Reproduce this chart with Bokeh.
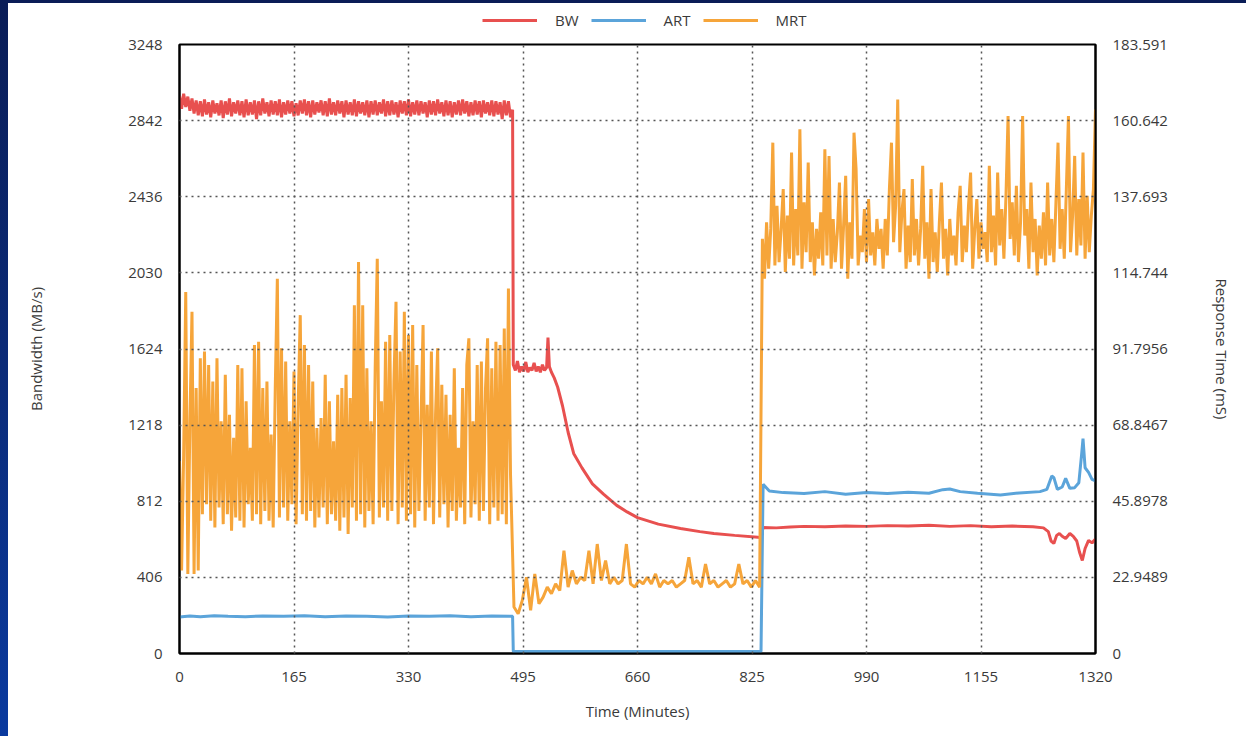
import numpy as np
from bokeh.plotting import figure
from bokeh.models import (Range1d, LinearAxis, FixedTicker, CustomJSTickFormatter,
                          Legend, LegendItem)
from bokeh.layouts import column
from bokeh.embed import file_html
from bokeh.resources import INLINE

# ---------------- data ----------------
x_ticks = [0, 165, 330, 495, 660, 825, 990, 1155, 1320]
bw_ticks = [0, 406, 812, 1218, 1624, 2030, 2436, 2842, 3248]
rt_ticks = [0, 22.9489, 45.8978, 68.8467, 91.7956, 114.744, 137.693, 160.642, 183.591]
series_names = ["BW", "ART", "MRT"]

# Bandwidth (MB/s), phase 1 sampled every 3 minutes from t=0
bw_phase1 = [2975, 2905, 2985, 2915, 2970, 2895, 2960, 2880, 2950, 2870,
             2945, 2865, 2955, 2875, 2940, 2860, 2950, 2880, 2935, 2870,
             2950, 2855, 2945, 2875, 2960, 2865, 2940, 2880, 2950, 2870,
             2945, 2860, 2955, 2870, 2940, 2875, 2950, 2850, 2945, 2870,
             2960, 2880, 2940, 2865, 2950, 2875, 2945, 2870, 2955, 2860,
             2940, 2875, 2950, 2880, 2945, 2865, 2935, 2870, 2950, 2880,
             2955, 2870, 2945, 2860, 2950, 2875, 2940, 2885, 2950, 2870,
             2945, 2865, 2960, 2875, 2940, 2870, 2950, 2880, 2945, 2860,
             2950, 2875, 2940, 2870, 2955, 2865, 2945, 2880, 2940, 2870,
             2950, 2860, 2945, 2875, 2950, 2870, 2940, 2880, 2955, 2865,
             2945, 2870, 2950, 2875, 2940, 2860, 2950, 2880, 2945, 2870,
             2955, 2865, 2940, 2875, 2950, 2870, 2945, 2880, 2940, 2860,
             2950, 2875, 2945, 2870, 2955, 2880, 2940, 2865, 2950, 2870,
             2945, 2860, 2940, 2875, 2950, 2870, 2955, 2880, 2945, 2865,
             2940, 2870, 2950, 2875, 2945, 2860, 2950, 2880, 2940, 2870,
             2950, 2865, 2945, 2875, 2940, 2850, 2950, 2870, 2945, 2860]
# Bandwidth after the first transition (time, value)
bw_tail_t = [480, 481, 484, 487, 490, 493, 496, 499, 502, 505,
             508, 511, 514, 517, 520, 523, 526, 529, 531, 533,
             536, 540, 545, 552, 560, 568, 580, 595, 611, 630,
             645, 660, 690, 722, 750, 770, 800, 838, 841, 860,
             880, 900, 930, 960, 990, 1020, 1050, 1080, 1110, 1140,
             1170, 1200, 1230, 1245, 1252, 1256, 1260, 1264, 1268, 1272,
             1277, 1283, 1288, 1293, 1297, 1301, 1305, 1310, 1315, 1320]
bw_tail_v = [2900, 1540, 1510, 1560, 1500, 1530, 1505, 1555, 1500, 1525,
             1510, 1550, 1505, 1530, 1500, 1540, 1510, 1525, 1685, 1530,
             1500, 1470, 1420, 1320, 1180, 1067, 990, 905, 850, 790,
             755, 725, 690, 667, 650, 640, 630, 619, 672, 670,
             675, 678, 676, 680, 678, 682, 680, 684, 678, 682,
             676, 680, 676, 670, 650, 600, 587, 630, 640, 625,
             613, 640, 625, 600, 540, 496, 560, 603, 590, 610]

# Average response time (ms)
art_t = [0, 15, 30, 50, 70, 95, 120, 150, 180, 210, 240, 270, 300, 330, 360, 390,
         420, 450, 480, 481, 600, 700, 838, 841, 850, 870, 900, 930, 960, 990,
         1020, 1050, 1080, 1100, 1110, 1125, 1150, 1183, 1210, 1240, 1250, 1257,
         1260, 1265, 1272, 1277, 1283, 1290, 1296, 1300, 1302, 1305, 1310, 1315, 1320]
art_v = [11.0, 11.3, 11.1, 11.4, 11.2, 11.1, 11.3, 11.2, 11.4, 11.1, 11.3, 11.2,
         11.0, 11.3, 11.2, 11.4, 11.1, 11.3, 11.2, 0.6, 0.6, 0.6, 0.6, 51.0,
         49.0, 48.5, 48.2, 48.8, 48.0, 48.5, 48.2, 48.6, 48.3, 49.4, 49.6, 48.8,
         48.3, 47.8, 48.4, 48.8, 49.5, 53.5, 53.0, 49.5, 50.2, 52.8, 49.8, 50.0,
         51.5, 60.0, 64.8, 56.0, 54.6, 52.5, 52.0]

# Max response time (ms)
mrt_phase1 = [58, 25, 60, 109, 24, 70, 103, 24, 80, 25,
              89, 42, 91, 45, 87, 40, 82, 38, 89, 44,
              70, 39, 84, 42, 72, 37, 65, 41, 87, 40,
              86, 38, 76, 45, 62, 40, 93, 42, 94, 39,
              80, 43, 82, 40, 66, 38, 80, 113, 41, 92,
              44, 88, 40, 70, 45, 85, 39, 75, 102, 42,
              93, 40, 87, 43, 82, 38, 68, 41, 71, 44,
              84, 39, 76, 42, 64, 40, 78, 37, 80, 41,
              84, 36, 77, 44, 105, 40, 118, 42, 105, 38,
              86, 43, 70, 39, 86, 119, 41, 76, 44, 94,
              40, 96, 43, 82, 106, 39, 91, 44, 103, 40,
              96, 42, 99, 38, 87, 43, 70, 99, 40, 75,
              44, 91, 39, 72, 92, 41, 81, 45, 78, 38,
              72, 43, 86, 40, 62, 44, 80, 39, 87, 95,
              41, 70, 45, 87, 40, 88, 43, 80, 95, 39,
              86, 44, 94, 40, 93, 42, 98, 39, 110, 54]      # every 3 min from 0
mrt_phase2 = [14, 12, 16, 23, 13, 24, 15, 17, 20, 18,
              21, 19, 31, 20, 25, 21, 23, 22, 31, 21,
              33, 22, 28, 21, 23, 21, 22, 33, 21, 20,
              22, 21, 23, 21, 24, 20, 22, 21, 22, 20,
              21, 22, 29, 21, 22, 20, 27, 21, 22, 20,
              21, 22, 20, 21, 27, 21, 22, 20, 22, 20]        # every 6 min from 482
mrt_phase3 = [125, 113, 130, 116, 128, 154, 117, 135, 118, 128,
              140, 115, 132, 119, 151, 117, 134, 120, 158, 116,
              136, 121, 148, 118, 130, 114, 128, 119, 133, 117,
              152, 120, 150, 116, 131, 118, 127, 142, 116, 129,
              144, 113, 130, 119, 157, 146, 117, 126, 121, 134,
              118, 137, 120, 127, 117, 131, 122, 128, 116, 131,
              120, 140, 154, 124, 135, 167, 121, 133, 140, 116,
              129, 118, 143, 120, 131, 117, 128, 147, 119, 130,
              113, 140, 118, 127, 115, 130, 142, 119, 128, 114,
              131, 120, 126, 117, 133, 141, 118, 129, 121, 135,
              145, 116, 128, 137, 119, 130, 122, 127, 118, 147,
              121, 132, 117, 145, 123, 134, 119, 138, 162, 125,
              136, 120, 141, 118, 130, 162, 126, 134, 116, 142,
              121, 131, 114, 129, 119, 133, 117, 142, 120, 131,
              118, 136, 154, 122, 134, 119, 140, 162, 121, 132,
              150, 120, 137, 123, 151, 119, 138, 121, 132, 140,
              164]                                            # every 3 min from 840

# ---------------- assemble series ----------------
bw_t = [3 * i for i in range(len(bw_phase1))] + bw_tail_t
bw_v = bw_phase1 + bw_tail_v
mrt_t = ([3 * i for i in range(len(mrt_phase1))]
         + [482 + 6 * i for i in range(len(mrt_phase2))]
         + [840 + 3 * i for i in range(len(mrt_phase3))])
mrt_v = mrt_phase1 + mrt_phase2 + mrt_phase3

RED = "#e8504f"
BLUE = "#5ba4da"
ORANGE = "#f6a53a"
FONT = "Open Sans"
TXT = "#3a3a3a"

# ---------------- main chart ----------------
p = figure(width=1238, height=704,
           min_border_left=171, min_border_right=151,
           min_border_top=12, min_border_bottom=83,
           x_range=Range1d(0, 1320), y_range=Range1d(0, 3248),
           output_backend="svg", toolbar_location=None,
           background_fill_color="white", border_fill_color="white")
p.margin = (0, 0, 0, 8)
p.extra_y_ranges = {"rt": Range1d(0, 183.591)}
right = LinearAxis(y_range_name="rt")
p.add_layout(right, "right")

p.xaxis.ticker = FixedTicker(ticks=x_ticks)
p.yaxis[0].ticker = FixedTicker(ticks=bw_ticks)
right.ticker = FixedTicker(ticks=rt_ticks)
right.formatter = CustomJSTickFormatter(code="return String(tick);")

p.xaxis.axis_label = "Time (Minutes)"
p.yaxis[0].axis_label = "Bandwidth (MB/s)"
right.axis_label = "Response Time (mS)"

for ax in [p.xaxis[0], p.yaxis[0], right]:
    ax.major_tick_line_color = None
    ax.minor_tick_line_color = None
    ax.axis_line_color = "black"
    ax.axis_line_width = 2
    ax.major_label_text_font = FONT
    ax.major_label_text_font_size = "15px"
    ax.major_label_text_color = TXT
    ax.axis_label_text_font = FONT
    ax.axis_label_text_font_size = "15px"
    ax.axis_label_text_font_style = "normal"
    ax.axis_label_text_color = TXT
    ax.major_label_standoff = 11

p.xaxis.major_label_standoff = 12
p.xaxis.axis_label_standoff = 16
p.yaxis[0].axis_label_standoff = 79
right.axis_label_standoff = 41

for g in [p.xgrid[0], p.ygrid[0]]:
    g.grid_line_color = "#555555"
    g.grid_line_dash = "2 4"
    g.grid_line_width = 1.5
    g.level = "overlay"

p.outline_line_color = "black"
p.outline_line_width = 2

p.line(bw_t, bw_v, color=RED, line_width=3)
p.line(art_t, art_v, y_range_name="rt", color=BLUE, line_width=3)
p.line(mrt_t, mrt_v, y_range_name="rt", color=ORANGE, line_width=3)

# ---------------- legend strip above the chart ----------------
# same series, drawn in a strip whose y-range shows none of the data: only the legend is visible
lg = figure(width=1238, height=29,
            min_border_left=171, min_border_right=151,
            min_border_top=5, min_border_bottom=0,
            x_range=Range1d(0, 1320), y_range=Range1d(-2, -1),
            output_backend="svg", toolbar_location=None,
            background_fill_color="white", border_fill_color="white")
lg.margin = (3, 0, 0, 8)
lg.outline_line_color = None
lg.axis.visible = False
lg.grid.visible = False
lr_bw = lg.line(bw_t, bw_v, color=RED, line_width=3)
lr_art = lg.line(art_t, art_v, color=BLUE, line_width=3)
lr_mrt = lg.line(mrt_t, mrt_v, color=ORANGE, line_width=3)

legend = Legend(items=[LegendItem(label=n, renderers=[r])
                       for n, r in zip(series_names, [lr_bw, lr_art, lr_mrt])],
                orientation="horizontal", location=(303, 2))
legend.label_text_font = FONT
legend.label_text_font_size = "15px"
legend.label_text_color = TXT
legend.glyph_width = 55
legend.label_standoff = 18
legend.spacing = 12
legend.padding = 0
legend.margin = 0
legend.border_line_color = None
legend.background_fill_alpha = 0
lg.add_layout(legend)

bg = ("linear-gradient(#0a1d57, #0a1d57) left top / 100% 3px no-repeat, "
      "linear-gradient(180deg, #0a1d57 0%, #0b2b78 50%, #0a3a9f 100%) left top / 8px 100% no-repeat, "
      "white")
layout = column(lg, p, width=1246, height=736, spacing=0, styles={"background": bg})

open("out.html", "w").write(file_html(layout, INLINE))
